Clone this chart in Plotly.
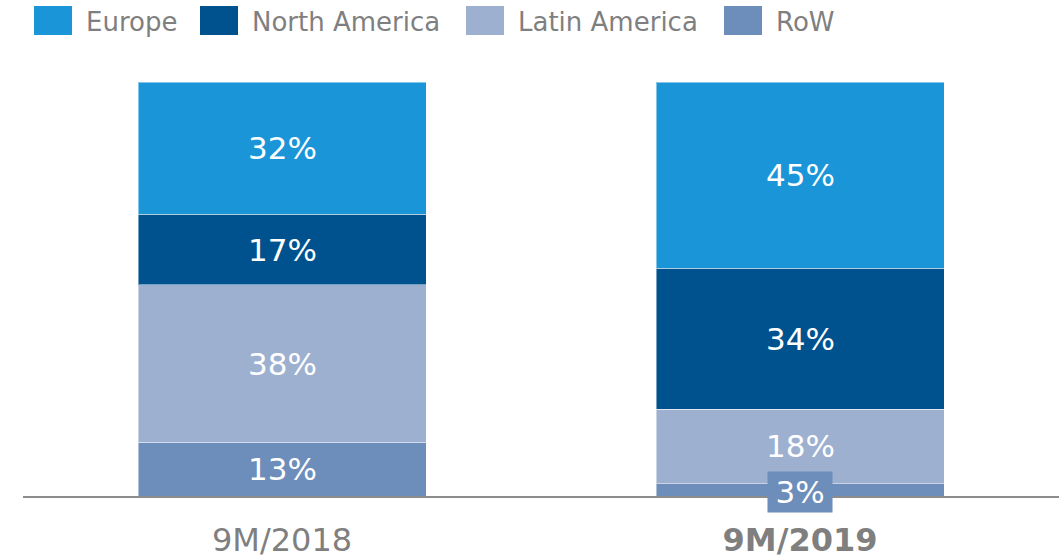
import plotly.graph_objects as go

categories = ["9M/2018", "9M/2019"]
tick_labels = ["9M/2018", "<b>9M/2019</b>"]
series_names = ["RoW", "Latin America", "North America", "Europe"]
row = [13, 3]
latin_america = [38, 18]
north_america = [17, 34]
europe = [32, 45]
values = [row, latin_america, north_america, europe]
colors = {"Europe": "#1A95D8", "North America": "#00528E",
          "Latin America": "#9DB0CF", "RoW": "#6D8DBA"}
legend_order = ["Europe", "North America", "Latin America", "RoW"]

W, H = 1064, 559
ML, MR, MT, MB = 23, 5, 82, 63
FONT = "DejaVu Sans"
GRAY = "#7F7F7F"

fig = go.Figure()
for name, vals in zip(series_names, values):
    fig.add_trace(go.Bar(
        x=categories, y=vals, name=name, marker_color=colors[name],
        marker_line=dict(width=1, color="rgba(255,255,255,0.45)"),
        width=0.556, showlegend=False, hoverinfo="skip"))

# segment labels
annotations = []
for ci, cat in enumerate(categories):
    base = 0
    for name, vals in zip(series_names, values):
        v = vals[ci]
        small = v < 6
        ann = dict(
            x=cat, y=base + v / 2, xref="x", yref="y",
            text=f"{v}%", showarrow=False,
            font=dict(family=FONT, size=31, color="white"))
        if small:
            ann.update(bgcolor=colors[name], borderpad=2, width=60, yshift=-2)
        annotations.append(ann)
        base += v

# custom legend
pw = W - ML - MR
ph = H - MT - MB
def px(x):
    return (x - ML) / pw
def py(y):
    return (H - MB - y) / ph

legend_x = [34, 200, 466, 724]
shapes = []
for name, lx in zip(legend_order, legend_x):
    shapes.append(dict(type="rect", xref="paper", yref="paper",
                       x0=px(lx), x1=px(lx + 38), y0=py(35), y1=py(6),
                       fillcolor=colors[name], line=dict(width=0)))
    annotations.append(dict(x=px(lx + 50), y=py(22), xref="paper", yref="paper",
                            text=name, showarrow=False, xanchor="left", yanchor="middle",
                            font=dict(family=FONT, size=26, color=GRAY)))

fig.update_layout(
    width=W, height=H, barmode="stack",
    margin=dict(l=ML, r=MR, t=MT, b=MB, autoexpand=False),
    paper_bgcolor="white", plot_bgcolor="white",
    shapes=shapes, annotations=annotations,
    xaxis=dict(range=[-0.5, 1.5], showline=True, linecolor="#8C8C8C", linewidth=1.5,
               tickmode="array", tickvals=categories, ticktext=tick_labels,
               tickfont=dict(family=FONT, size=32, color=GRAY), automargin=False,
               ticklabelstandoff=15, showgrid=False, zeroline=False, fixedrange=True),
    yaxis=dict(range=[0, 100], visible=False, fixedrange=True, automargin=False),
)
fig.write_html("out.html", config={"displayModeBar": False},
               post_script="document.body.style.margin='0';document.body.style.overflow='hidden';")
